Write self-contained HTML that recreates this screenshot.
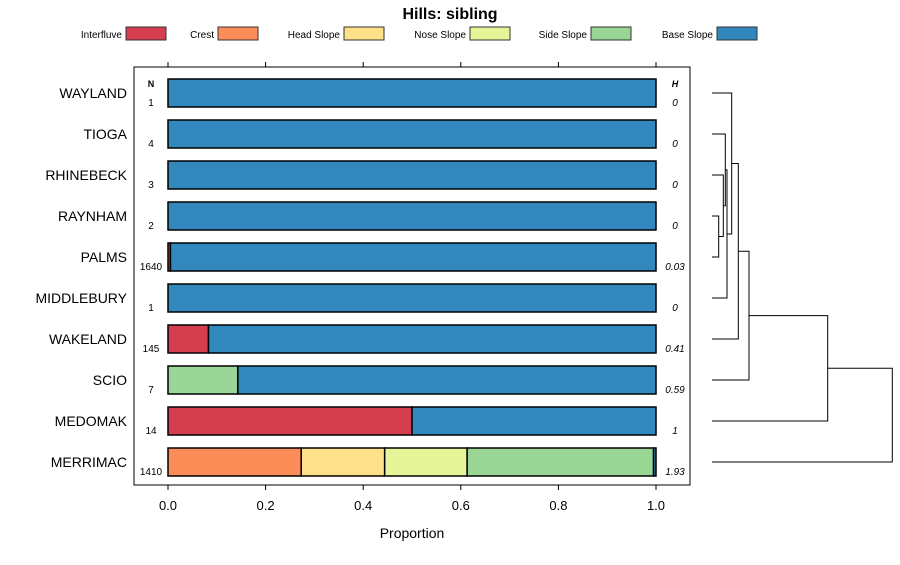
<!DOCTYPE html>
<html><head><meta charset="utf-8"><style>body{margin:0;background:#fff}svg{font-family:"Liberation Sans",sans-serif}</style></head>
<body>
<svg id="c" width="900" height="560"></svg>
<script>
const rows=["WAYLAND","TIOGA","RHINEBECK","RAYNHAM","PALMS","MIDDLEBURY","WAKELAND","SCIO","MEDOMAK","MERRIMAC"];
const classes=["Interfluve","Crest","Head Slope","Nose Slope","Side Slope","Base Slope"];
const colors=["#d53e4f","#fc8d59","#fee08b","#e6f598","#99d594","#3288bd"];
const props=[
[0,0,0,0,0,1],[0,0,0,0,0,1],[0,0,0,0,0,1],[0,0,0,0,0,1],
[0.005,0,0,0,0,0.995],[0,0,0,0,0,1],[0.083,0,0,0,0,0.917],
[0,0,0,0,0.143,0.857],[0.5,0,0,0,0,0.5],[0,0.273,0.171,0.169,0.382,0.005]];
const nVals=["1","4","3","2","1640","1","145","7","14","1410"];
const hVals=["0","0","0","0","0.03","0","0.41","0.59","1","1.93"];
const ticks=[0,0.2,0.4,0.6,0.8,1.0];
// dendrogram merges: [childA, childB]; non-positive = leaf index (negated), positive = merge index(1-based)
const merges=[[-3,-4],[-2,1],[-1,2],[3,-5],[-0,4],[5,-6],[6,-7],[7,-8],[8,-9]];
const NS="http://www.w3.org/2000/svg",svg=document.getElementById('c');
function el(t,a,p){const e=document.createElementNS(NS,t);for(const k in a)e.setAttribute(k,a[k]);(p||svg).appendChild(e);return e;}
const X=v=>168+v*488, Y=i=>93+i*41;
let t=el('text',{x:450,y:19,'text-anchor':'middle','font-size':16,'font-weight':'bold'});t.textContent='Hills: sibling';

const lbx=[126,218,344,470,591,717];
classes.forEach((c,i)=>{const g=el('g',{});

el('rect',{x:lbx[i],y:27,width:40,height:13,fill:colors[i],stroke:'#333'},g);
const tt=el('text',{x:lbx[i]-4,y:38,'text-anchor':'end','font-size':10},g);tt.textContent=c;});
const box=el('rect',{x:134,y:67,width:556,height:418,fill:'none',stroke:'#000'});

ticks.forEach(v=>{el('line',{x1:X(v),x2:X(v),y1:62,y2:67,stroke:'#000'});el('line',{x1:X(v),x2:X(v),y1:485,y2:490,stroke:'#000'});
const tl=el('text',{x:X(v),y:510,'text-anchor':'middle','font-size':13});tl.textContent=v.toFixed(1);
});
t=el('text',{x:412,y:538,'text-anchor':'middle','font-size':14});t.textContent='Proportion';

t=el('text',{x:151,y:87,'text-anchor':'middle','font-size':9,'font-weight':'bold'});t.textContent='N';
t=el('text',{x:675,y:87,'text-anchor':'middle','font-size':9,'font-weight':'bold','font-style':'italic'});t.textContent='H';
rows.forEach((r,i)=>{const y=Y(i);
const l=el('text',{x:127,y:y+5,'text-anchor':'end','font-size':14});l.textContent=r;

let cum=0;props[i].forEach((p,k)=>{if(p>0){const b=el('rect',{x:X(cum),y:y-14,width:X(cum+p)-X(cum),height:28,fill:colors[k],stroke:'#000','stroke-width':1.5});
}cum+=p;});
const n=el('text',{x:151,y:y+13,'text-anchor':'middle','font-size':10});n.textContent=nVals[i];

const h=el('text',{x:675,y:y+13,'text-anchor':'middle','font-size':10,'font-style':'italic'});h.textContent=hVals[i];
});
const mx=[718.7,723.3,725.3,727,731.7,738.3,749,827.7,892.3];
const nodes=[];
function pos(c){if(c<=0)return{x:712,y:Y(-c)};return nodes[c-1];}
merges.forEach((m,j)=>{const a=pos(m[0]),b=pos(m[1]);const x=mx[j];
const p=el('polyline',{points:`${a.x},${a.y} ${x},${a.y} ${x},${b.y} ${b.x},${b.y}`,fill:'none',stroke:'#000'});

nodes.push({x:x,y:(a.y+b.y)/2});});
</script>
</body></html>
